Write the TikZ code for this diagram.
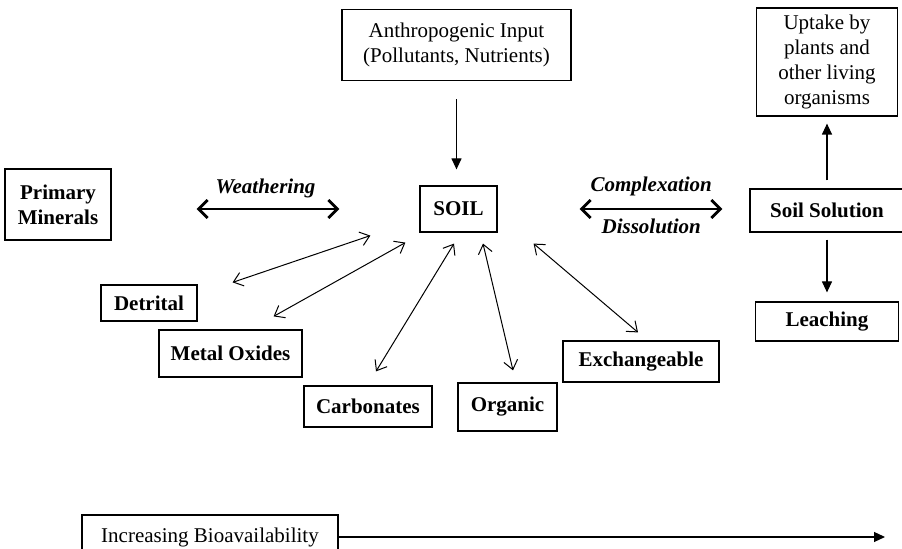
\documentclass[tikz,border=0pt]{standalone}
\usepackage{fontspec}
\setmainfont{Liberation Serif}
\usepackage{tikz}
\usetikzlibrary{arrows.meta}

\begin{document}
\begin{tikzpicture}[x=0.5pt, y=-0.5pt,
  box/.style={draw, line width=0.6pt, inner sep=0pt, align=center, font=\fontsize{10.5}{12.5}\selectfont\bfseries},
  plainbox/.style={box, font=\fontsize{10.5}{12.5}\selectfont},
  process/.style={inner sep=0pt, font=\fontsize{10.5}{12.5}\selectfont\bfseries\itshape},
  thin arrow/.style={line width=0.5pt, {Straight Barb[length=4.5pt,width=7pt]}-{Straight Barb[length=4.5pt,width=7pt]}},
  bold arrow/.style={line width=1.4pt, {Straight Barb[length=4.5pt,width=9pt]}-{Straight Barb[length=4.5pt,width=9pt]}},
  solid arrow/.style={line width=0.6pt, -{Triangle[length=5.5pt,width=5pt]}}]
\useasboundingbox (0,0) rectangle (902,549);

% boxes
\node [plainbox, minimum width=114.5pt, minimum height=35.5pt] (anthro) at (456.5,45) {Anthropogenic Input\\(Pollutants, Nutrients)};
\node [box, minimum width=38.5pt, minimum height=23pt] (soil) at (458.5,209) {SOIL};
\node [box, minimum width=53pt, minimum height=35.5pt] (prim) at (58,204.5) {Primary\\Minerals};
\node [box, minimum width=77pt, minimum height=21.5pt] (solution) at (827,210.5) {Soil Solution};
\node [plainbox, minimum width=70.5pt, minimum height=54pt] (uptake) at (827,62) {Uptake by\\plants and\\other living\\organisms};
\node [box, minimum width=71.5pt, minimum height=19.5pt] (leach) at (827,321.5) {Leaching};

\node [box, minimum width=48pt, minimum height=18pt] (detrital) at (149,303) {Detrital};
\node [box, minimum width=71.5pt, minimum height=23.5pt] (metal) at (230.5,353.5) {Metal Oxides};
\node [box, minimum width=64pt, minimum height=20.5pt] (carb) at (368,406.5) {Carbonates};
\node [box, minimum width=49.5pt, minimum height=24pt] (organic) at (507.5,407) {Organic};
\node [box, minimum width=78pt, minimum height=20.5pt] (exch) at (641,361.5) {Exchangeable};

\node [plainbox, minimum width=128pt, minimum height=22pt] (bio) at (210,537) {Increasing Bioavailability};
\coordinate (bioend) at (885,537);

% inputs and outputs
\draw [solid arrow, shorten <=9pt, shorten >=8pt] (anthro.south) -- (anthro.south |- soil.north);
\draw [solid arrow, shorten <=4pt, shorten >=3.5pt] (solution.north) -- (uptake.south);
\draw [solid arrow, shorten <=3.5pt, shorten >=4.5pt] (solution.south) -- (leach.north);
\draw [solid arrow] (bio.east) -- (bioend);

% exchanges with the soil
\draw [bold arrow, shorten <=42.5pt, shorten >=40pt] (prim.east |- soil.west) -- node [process, above=5pt] {Weathering} (soil.west);
\draw [bold arrow, shorten <=41pt, shorten >=13.5pt] (soil.east) -- node [pos=.61, process, above=5.8pt] {Complexation} node [pos=.61, process, below=4.4pt] {Dissolution} (solution.west |- soil.east);

% soil fractions
\draw [thin arrow] ([shift={(35,-2)}]detrital.north east) -- ([shift={(-49,3)}]soil.south west);
\draw [thin arrow] ([shift={(-29,-13)}]metal.north east) -- ([shift={(-14,10)}]soil.south west);
\draw [thin arrow] ([shift={(8,-14)}]carb.north) -- ([shift={(-4.5,11)}]soil.south);
\draw [thin arrow] ([shift={(5.5,-12)}]organic.north) -- ([shift={(24.5,11)}]soil.south);
\draw [thin arrow] ([shift={(-3,-8)}]exch.north) -- ([shift={(36,11)}]soil.south east);
\end{tikzpicture}
\end{document}
